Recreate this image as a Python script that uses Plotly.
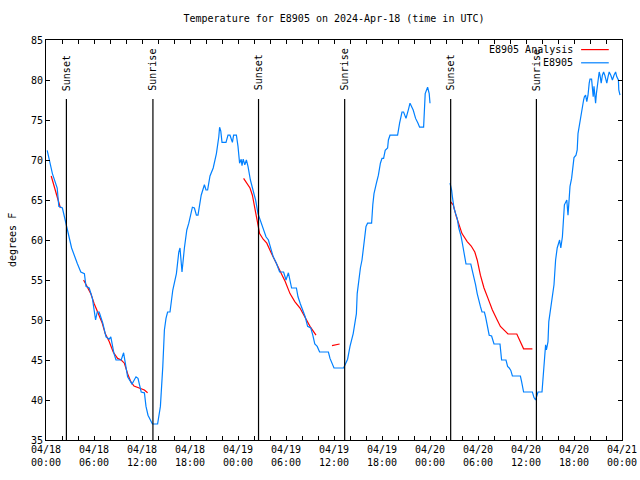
import plotly.graph_objects as go
import pandas as pd

START = "2024-04-18 00:00"

# E8905 observations: hours since 04/18 00:00 UTC, degrees F (None = gap)
obs_hours = [0.15, 0.8, 1.4, 1.6, 2.05, 2.5, 3.2, 3.9, 4.35, 4.8, 5.0, 5.4, 5.8, 6.2, 6.4, 6.65,
             7.1, 7.5, 7.9, 8.1, 8.5, 8.75, 9.4, 9.7, 9.9, 10.2, 10.75, 11.25, 11.5, 11.9, 12.3,
             12.5, 12.75, 13.1, 13.3, 13.95, 14.3, 14.6, 14.8, 15.0, 15.2, 15.5, 15.85, 16.3,
             16.6, 16.75, 16.9, 17.0, 17.3, 17.6, 17.85, 18.3, 18.55, 18.8, 19.0, 19.4, 19.8,
             20.0, 20.2, 20.5, 20.9, 21.3, 21.6, 21.7, 21.85, 22.0, 22.5, 22.75, 23.0, 23.3,
             23.45, 23.8, 24.0, 24.2, 24.4, 24.5, 24.65, 24.85, 25.05, 25.25, 25.55, 25.9, 26.2,
             26.5, 26.8, 27.15, 27.5, 27.8, 28.1, 28.4, 28.8, 29.2, 29.7, 30.0, 30.3, 30.7, 31.3,
             31.5, 31.8, 32.1, 32.4, 32.7, 33.1, 33.35, 33.6, 33.9, 34.2, 35.3, 35.5, 36.0, 37.2,
             37.7, 38.0, 38.4, 38.8, 38.9, 39.05, 39.3, 39.5, 39.7, 40.0, 40.2, 40.7, 40.85, 41.0,
             41.3, 41.55, 41.8, 42.0, 42.2, 42.4, 42.7, 42.8, 43.0, 43.95, 44.2, 44.5, 44.7, 45.0,
             45.3, 45.5, 45.9, 46.2, 46.5, 46.7, 47.2, 47.4, 47.7, 47.9, 48.0, 49.0,
             50.5, 50.7, 50.8, 51.0, 51.2, 51.4, 51.6, 51.9, 52.15, 52.3, 52.5, 53.1, 53.3, 53.5,
             53.7, 53.9, 54.1, 54.3, 54.5, 54.8, 54.95, 55.2, 55.4, 55.7, 56.0, 56.75, 56.95, 57.5,
             57.7, 57.9, 58.1, 58.3, 59.3, 59.45, 59.7, 60.8, 61.0, 61.2, 61.4, 61.5, 62.0, 62.2,
             62.3, 62.45, 62.55, 62.75, 62.85, 63.1, 63.3, 63.5, 63.7, 63.9, 64.2, 64.35, 64.55,
             64.7, 64.8, 65.1, 65.25, 65.4, 65.5, 65.7, 65.8, 65.9, 66.0, 66.25, 66.4, 66.5, 66.75,
             67.0, 67.2, 67.3, 67.45, 67.6, 67.75, 67.9, 68.0, 68.2, 68.3, 68.4, 68.5, 68.7, 68.8,
             68.95, 69.15, 69.25, 69.4, 69.55, 69.7, 69.85, 70.1, 70.25, 70.4, 70.6, 70.8, 71.0,
             71.2, 71.35, 71.55, 71.6, 71.75]
obs_temp = [71.2, 68.3, 66.5, 64.2, 64.0, 61.9, 59.0, 57.1, 56.0, 55.8, 54.2, 54.0, 52.7, 50.0, 51.0, 51.0,
            49.6, 47.9, 47.6, 47.9, 45.8, 45.0, 45.0, 45.9, 44.6, 42.9, 42.0, 42.9, 42.7, 41.0, 40.9,
            39.2, 38.1, 37.5, 37.0, 37.0, 39.2, 44.2, 48.75, 50.2, 51.0, 51.0, 53.75, 55.8,
            58.5, 59.0, 56.9, 56.0, 59.0, 61.25, 62.1, 64.1, 64.0, 63.1, 63.1, 65.6, 66.9,
            66.25, 66.25, 68.0, 69.0, 70.8, 72.9, 74.1, 73.6, 72.2, 72.2, 73.1, 73.1, 72.2,
            73.1, 73.1, 71.7, 69.6, 70.1, 69.3, 70.1, 69.4, 70.0, 69.2, 67.5, 66.25, 65.0,
            63.3, 62.5, 61.5, 60.4, 60.0, 58.8, 57.9, 57.1, 56.0, 56.0, 55.0, 55.9, 54.0, 54.0,
            52.9, 52.0, 51.3, 50.4, 49.2, 49.0, 48.1, 47.0, 46.7, 46.0, 46.0, 45.2, 44.0, 44.0,
            45.1, 46.7, 48.3, 50.8, 53.3, 54.6, 56.5, 57.5, 59.2, 61.7, 62.1, 62.1, 64.4, 65.8,
            67.1, 68.1, 69.6, 70.2, 70.2, 71.2, 71.5, 72.5, 73.1, 73.1, 74.6, 76.0, 76.0, 75.2,
            76.3, 77.1, 76.25, 75.2, 74.6, 74.1, 74.1, 78.3, 79.1, 78.3, 77.1, None,
            67.1, 66.25, 65.4, 64.0, 63.3, 62.7, 61.5, 60.4, 59.0, 58.1, 57.0, 57.0, 56.25, 55.2,
            54.4, 53.3, 52.3, 51.7, 51.0, 51.0, 50.4, 49.2, 48.1, 48.0, 47.0, 47.0, 45.0, 45.0,
            44.2, 44.0, 43.7, 43.0, 43.0, 42.3, 41.0, 41.0, 40.3, 40.0, 40.6, 41.0, 41.0, 43.3,
            45.0, 46.9, 46.25, 47.3, 49.8, 51.7, 52.9, 54.4, 57.5, 59.0, 60.0, 59.0, 60.4,
            62.9, 64.4, 65.0, 63.1, 65.2, 66.7, 67.7, 68.75, 69.6, 70.3, 70.6, 71.25, 73.3, 75.0,
            76.25, 77.5, 77.9, 78.1, 77.3, 78.1, 79.6, 80.1, 80.1, 79.2, 77.9, 79.2, 77.1, 78.3,
            79.6, 81.0, 80.6, 79.6, 80.6, 81.0, 80.6, 79.6, 80.4, 81.0, 80.6, 80.0, 80.6,
            81.0, 80.4, 80.0, 78.75, 78.1]

# E8905 Analysis
ana_hours = [0.65, 1.0, 1.4, 1.8, 3.0,
             4.7, 5.2, 5.6, 6.0, 6.45, 7.0, 7.4, 7.9, 8.4, 8.95, 9.4, 9.8, 10.2, 10.6, 11.0, 11.7,
             12.3, 12.7, 18.0,
             24.7, 25.05, 25.5, 25.8, 26.1, 26.3, 26.5, 26.7, 27.15, 27.6, 28.1, 28.6, 29.2, 29.9,
             30.5, 31.1, 31.75, 32.4, 33.0, 33.75, 35.0,
             35.75, 36.7, 40.0,
             50.55, 50.9, 51.3, 51.6, 52.0, 52.65, 53.15, 53.6, 53.9, 54.3, 54.75, 55.25, 55.8,
             56.4, 56.8, 57.3, 57.75, 58.85, 59.35, 59.7, 60.8]
ana_temp = [68.0, 66.8, 65.2, 64.0, None,
            55.0, 54.0, 53.3, 52.1, 51.0, 49.7, 48.3, 47.3, 46.0, 45.2, 45.0, 44.6, 43.3, 42.3, 41.75, 41.5,
            41.25, 40.9, None,
            67.7, 67.1, 66.5, 65.6, 64.0, 62.7, 61.7, 60.8, 60.1, 59.6, 58.5, 57.5, 56.25, 54.8,
            53.3, 52.3, 51.5, 50.2, 49.2, 48.1, None,
            46.8, 47.0, None,
            64.8, 64.4, 62.9, 61.9, 60.8, 59.8, 59.25, 58.5, 57.5, 55.6, 54.0, 52.7, 51.25,
            50.0, 49.2, 48.7, 48.25, 48.25, 47.2, 46.4, 46.4]

# Sun events (UTC)
sun_times = ["2024-04-18 02:33", "2024-04-18 13:22", "2024-04-19 02:34",
             "2024-04-19 13:20", "2024-04-20 02:35", "2024-04-20 13:18"]
sun_labels = ["Sunset", "Sunrise", "Sunset", "Sunrise", "Sunset", "Sunrise"]

series_names = ["E8905 Analysis", "E8905"]
series_colors = ["#ff0000", "#0080ff"]

start = pd.Timestamp(START)
obs_x = [start + pd.Timedelta(hours=h) for h in obs_hours]
ana_x = [start + pd.Timedelta(hours=h) for h in ana_hours]

FONT = "DejaVu Sans Mono"

fig = go.Figure()
fig.add_trace(go.Scatter(x=ana_x, y=ana_temp, mode="lines", name=series_names[0],
                         line=dict(color=series_colors[0], width=1.2), connectgaps=False,
                         hoverinfo="skip"))
fig.add_trace(go.Scatter(x=obs_x, y=obs_temp, mode="lines", name=series_names[1],
                         line=dict(color=series_colors[1], width=1.2), connectgaps=False,
                         hoverinfo="skip"))

for t, lab in zip(sun_times, sun_labels):
    fig.add_shape(type="line", xref="x", yref="paper", x0=t, x1=t, y0=0, y1=0.8525,
                  line=dict(color="black", width=1.2))
    fig.add_annotation(x=t, xref="x", y=0.868, yref="paper", text=lab, textangle=-90,
                       showarrow=False, xanchor="center", yanchor="bottom",
                       font=dict(family=FONT, size=10, color="black"))

# gnuplot-style legend (text right, sample line right of it)
leg_y = [0.976, 0.943]
for name, col, yy in zip(series_names, series_colors, leg_y):
    fig.add_annotation(x=0.919, xref="paper", y=yy, yref="paper", text=name, showarrow=False,
                       xanchor="right", yanchor="middle",
                       font=dict(family=FONT, size=10, color="black"))
    fig.add_shape(type="line", xref="paper", yref="paper", x0=0.929, x1=0.977, y0=yy, y1=yy,
                  line=dict(color=col, width=1.2))

fig.add_annotation(x=-0.059, xref="paper", y=0.5, yref="paper", text="degrees F",
                   textangle=-90, showarrow=False, xanchor="center", yanchor="middle",
                   font=dict(family=FONT, size=10, color="black"))

fig.update_layout(
    width=640, height=480,
    margin=dict(l=46, r=18, t=40, b=40, autoexpand=False),
    paper_bgcolor="white", plot_bgcolor="white",
    showlegend=False, hovermode=False,
    font=dict(family=FONT, size=10, color="black"),
    title=dict(text="Temperature for E8905 on 2024-Apr-18 (time in UTC)",
               x=334 / 640, xanchor="center", y=1 - 18 / 480, yanchor="middle",
               font=dict(family=FONT, size=10, color="black")),
)
fig.update_xaxes(
    type="date", range=["2024-04-18 00:00", "2024-04-21 00:00"],
    dtick=6 * 3600000, tick0="2024-04-18 00:00", tickformat="%m/%d<br>%H:%M",
    ticks="inside", ticklen=4, tickcolor="black", tickwidth=1,
    minor=dict(dtick=2 * 3600000, ticks="inside", ticklen=4, tickcolor="black", tickwidth=1),
    showline=True, linecolor="black", linewidth=1, mirror="ticks",
    showgrid=False, zeroline=False,
    tickfont=dict(family=FONT, size=10, color="black"),
)
fig.update_yaxes(
    range=[35, 85], dtick=5, tick0=35,
    ticks="inside", ticklen=4, tickcolor="black", tickwidth=1,
    showline=True, linecolor="black", linewidth=1, mirror="ticks",
    showgrid=False, zeroline=False,
    tickfont=dict(family=FONT, size=10, color="black"),
)

fig.write_html("out.html",
               config={"displayModeBar": False, "staticPlot": True},
               post_script="document.body.style.margin='0';document.body.style.overflow='hidden';")
